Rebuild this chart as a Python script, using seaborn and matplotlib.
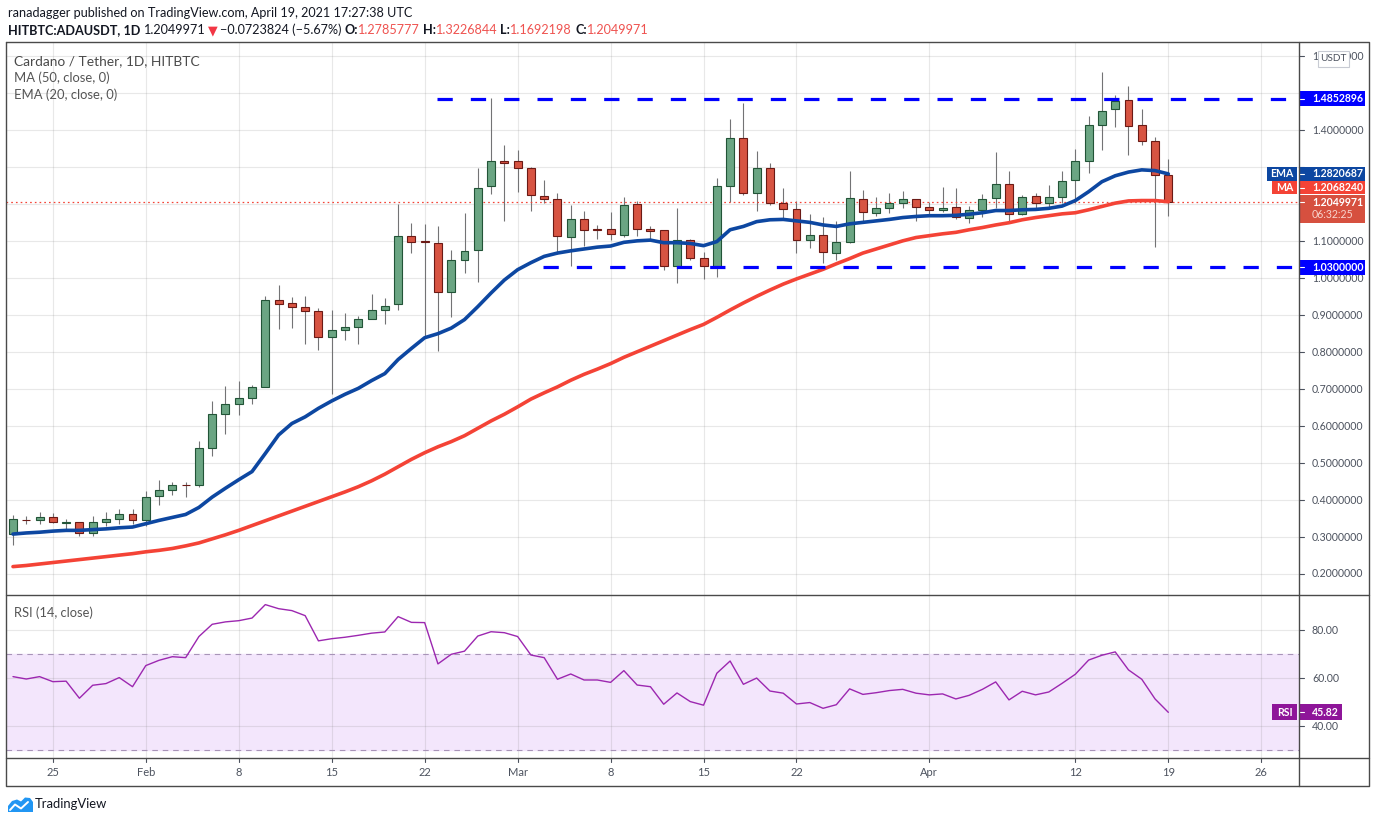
import numpy as np
import pandas as pd
import matplotlib
matplotlib.use("Agg")
import matplotlib.pyplot as plt
import matplotlib.transforms as mtrans
from matplotlib.patches import Rectangle, Polygon
import seaborn as sns

# ---------------- data ----------------
start_date = "2021-01-22"
end_date = "2021-04-19"

open_ = [0.307, 0.347, 0.345, 0.353, 0.339, 0.341, 0.310, 0.341, 0.348, 0.361,
         0.345, 0.410, 0.426, 0.442, 0.442, 0.540, 0.634, 0.661, 0.677, 0.705,
         0.940, 0.932, 0.923, 0.910, 0.842, 0.861, 0.869, 0.891, 0.915, 0.929,
         1.115, 1.100, 1.096, 0.962, 1.049, 1.076, 1.249, 1.317, 1.317, 1.297,
         1.222, 1.214, 1.111, 1.159, 1.133, 1.132, 1.118, 1.200, 1.132, 1.130,
         1.032, 1.103, 1.054, 1.032, 1.249, 1.378, 1.230, 1.297, 1.203, 1.186,
         1.103, 1.116, 1.068, 1.097, 1.214, 1.176, 1.189, 1.203, 1.214, 1.192,
         1.184, 1.192, 1.162, 1.184, 1.216, 1.254, 1.173, 1.222, 1.203, 1.219,
         1.265, 1.316, 1.414, 1.457, 1.481, 1.414, 1.370, 1.2785777]
high = [0.359, 0.357, 0.367, 0.364, 0.350, 0.341, 0.357, 0.367, 0.377, 0.377,
        0.424, 0.454, 0.449, 0.448, 0.559, 0.668, 0.708, 0.722, 0.711, 0.951,
        0.981, 0.949, 0.951, 0.919, 0.913, 0.905, 0.897, 0.957, 0.946, 1.200,
        1.150, 1.146, 1.140, 1.077, 1.177, 1.298, 1.486, 1.360, 1.347, 1.301,
        1.266, 1.231, 1.198, 1.182, 1.144, 1.179, 1.220, 1.209, 1.140, 1.130,
        1.191, 1.105, 1.070, 1.271, 1.430, 1.473, 1.343, 1.311, 1.243, 1.208,
        1.173, 1.166, 1.154, 1.290, 1.239, 1.219, 1.230, 1.236, 1.214, 1.207,
        1.247, 1.244, 1.196, 1.227, 1.341, 1.290, 1.224, 1.231, 1.252, 1.290,
        1.350, 1.439, 1.557, 1.495, 1.520, 1.457, 1.381, 1.3226844]
low = [0.278, 0.334, 0.336, 0.339, 0.323, 0.304, 0.304, 0.331, 0.336, 0.336,
       0.331, 0.387, 0.414, 0.409, 0.436, 0.520, 0.579, 0.630, 0.660, 0.705,
       0.863, 0.866, 0.823, 0.806, 0.688, 0.833, 0.823, 0.891, 0.877, 0.913,
       1.068, 0.837, 0.804, 0.895, 1.013, 0.991, 1.229, 1.156, 1.232, 1.183,
       1.203, 1.066, 1.034, 1.086, 1.106, 1.104, 1.112, 1.115, 1.104, 1.023,
       0.986, 1.050, 0.999, 1.002, 1.205, 1.224, 1.183, 1.198, 1.158, 1.067,
       1.083, 1.040, 1.048, 1.095, 1.156, 1.167, 1.177, 1.189, 1.154, 1.174,
       1.180, 1.159, 1.150, 1.165, 1.191, 1.154, 1.170, 1.189, 1.189, 1.203,
       1.203, 1.284, 1.346, 1.410, 1.332, 1.359, 1.084, 1.1692198]
close = [0.350, 0.345, 0.353, 0.341, 0.341, 0.310, 0.341, 0.348, 0.361, 0.345,
         0.407, 0.426, 0.440, 0.440, 0.540, 0.634, 0.661, 0.675, 0.705, 0.940,
         0.929, 0.923, 0.910, 0.842, 0.861, 0.869, 0.891, 0.913, 0.926, 1.115,
         1.099, 1.098, 0.964, 1.049, 1.073, 1.243, 1.317, 1.311, 1.297, 1.224,
         1.214, 1.114, 1.159, 1.130, 1.131, 1.119, 1.197, 1.132, 1.127, 1.032,
         1.103, 1.054, 1.032, 1.249, 1.378, 1.230, 1.297, 1.203, 1.186, 1.103,
         1.116, 1.070, 1.097, 1.216, 1.178, 1.189, 1.203, 1.214, 1.192, 1.184,
         1.189, 1.165, 1.184, 1.214, 1.254, 1.173, 1.219, 1.203, 1.219, 1.262,
         1.316, 1.414, 1.451, 1.478, 1.411, 1.370, 1.278, 1.2049971]

ema20 = [0.308, 0.311, 0.313, 0.316, 0.318, 0.318, 0.320, 0.322, 0.325, 0.327,
         0.336, 0.345, 0.353, 0.361, 0.380, 0.408, 0.432, 0.455,
         0.477, 0.526, 0.576, 0.607, 0.625, 0.648, 0.668, 0.686, 0.702, 0.723,
         0.742, 0.780, 0.810, 0.839, 0.850, 0.865,
         0.888, 0.923, 0.960, 0.995, 1.023, 1.042, 1.059, 1.068, 1.074, 1.079,
         1.084, 1.087, 1.097, 1.101, 1.103, 1.096, 1.096, 1.094,
         1.088, 1.099, 1.131, 1.140, 1.153, 1.158, 1.159, 1.155, 1.151, 1.144,
         1.140, 1.147, 1.151, 1.155, 1.159, 1.164, 1.167, 1.169,
         1.169, 1.170, 1.173, 1.177, 1.183, 1.183, 1.185, 1.186, 1.189, 1.195,
         1.210, 1.234, 1.261, 1.277, 1.287, 1.293, 1.291, 1.2820687]
ma50 = [0.220, 0.223, 0.227, 0.231, 0.235, 0.239, 0.243, 0.247, 0.251, 0.255,
        0.260, 0.264, 0.269, 0.276, 0.284, 0.295, 0.306, 0.318,
        0.331, 0.344, 0.357, 0.370, 0.383, 0.396, 0.409, 0.422, 0.436, 0.452,
        0.470, 0.490, 0.510, 0.528, 0.544, 0.558,
        0.574, 0.594, 0.614, 0.632, 0.652, 0.673, 0.690, 0.706, 0.724, 0.740,
        0.754, 0.769, 0.786, 0.801, 0.816, 0.831, 0.846, 0.861,
        0.875, 0.894, 0.914, 0.933, 0.951, 0.968, 0.984, 0.998, 1.011, 1.024,
        1.039, 1.053, 1.068, 1.079, 1.090, 1.101, 1.110, 1.115,
        1.120, 1.124, 1.131, 1.137, 1.144, 1.150, 1.158, 1.164, 1.169, 1.174,
        1.177, 1.185, 1.194, 1.203, 1.209, 1.210, 1.210, 1.2068240]
rsi14 = [60.7, 59.7, 60.7, 58.6, 58.8, 51.7, 57.1, 57.8, 60.3, 56.5,
         65.3, 67.5, 69.0, 68.6, 77.4, 82.5, 83.5, 84.0, 85.1, 90.7,
         89.0, 88.2, 86.1, 75.6, 76.5, 77.1, 77.9, 78.8, 79.3, 85.7,
         83.3, 83.2, 66.0, 70.0, 71.3, 77.6, 79.4, 79.0, 77.4, 69.7,
         68.6, 59.6, 61.8, 59.3, 59.3, 58.3, 63.2, 57.2, 56.5, 49.2,
         53.9, 50.3, 48.8, 62.1, 67.2, 57.5, 60.1, 54.7, 53.8, 49.3,
         49.9, 47.5, 49.0, 55.6, 53.3, 54.0, 54.9, 55.4, 53.8, 53.1,
         53.5, 51.4, 52.9, 55.4, 58.5, 51.0, 54.6, 53.1, 54.3, 57.9,
         61.7, 67.6, 69.6, 71.0, 63.5, 59.6, 51.4, 45.82]

levels = [1.4852896, 1.0300000]
level_starts = ["2021-02-23", "2021-03-03"]

tick_dates = ["2021-01-25", "2021-02-01", "2021-02-08", "2021-02-15", "2021-02-22",
              "2021-03-01", "2021-03-08", "2021-03-15", "2021-03-22", "2021-04-01",
              "2021-04-12", "2021-04-19", "2021-04-26"]
tick_labels = ["25", "Feb", "8", "15", "22", "Mar", "8", "15", "22", "Apr", "12", "19", "26"]
price_ticks = [0.2, 0.3, 0.4, 0.5, 0.6, 0.7, 0.8, 0.9, 1.0, 1.1, 1.2, 1.3, 1.4, 1.5, 1.6]
# labels hidden behind the coloured price boxes in the original
hidden_price_labels = [1.2, 1.3, 1.5]
rsi_ticks = [40, 60, 80]

# ---------------- style ----------------
sns.set_theme(style="white")
plt.rcParams['font.family'] = ['Lato', 'DejaVu Sans']
plt.rcParams['lines.scale_dashes'] = False

W, H = 1376, 823
fig = plt.figure(figsize=(W / 100, H / 100), dpi=100)
fig.patch.set_facecolor("white")

L, R = 6, 1299
T1, B1, B2 = 42, 595, 758
ax = fig.add_axes([L / W, 1 - B1 / H, (R - L) / W, (B1 - T1) / H])
ax2 = fig.add_axes([L / W, 1 - B2 / H, (R - L) / W, (B2 - B1) / H])
AXW = R - L

dates = pd.date_range(start_date, end_date, freq="D")
xs = np.arange(len(dates))
d0 = dates[0]
tick_pos = [(pd.Timestamp(d) - d0).days for d in tick_dates]

XLIM = (-0.527, 96.84)
for a in (ax, ax2):
    a.set_xlim(*XLIM)
    a.set_xticks([])
    a.set_yticks([])
    for s in a.spines.values():
        s.set_visible(False)
    a.set_facecolor("white")
ax.set_ylim(0.1432, 1.6388)
ax2.set_ylim(26.8, 94.7)

grid_kw = dict(color="#808080", alpha=0.18, lw=0.8, zorder=1)
for v in price_ticks:
    ax.axhline(v, **grid_kw)
for p in tick_pos:
    ax.axvline(p, **grid_kw)
    ax2.axvline(p, **grid_kw)

# ---------------- candles ----------------
o = np.array(open_); h = np.array(high); lo = np.array(low); c = np.array(close)
up = c >= o
ax.vlines(xs, lo, h, color="#737375", lw=0.8, zorder=2)
body_bottom = np.minimum(o, c)
body_h = np.maximum(np.abs(c - o), 0.0015)
ax.bar(xs[up], body_h[up], bottom=body_bottom[up], width=0.6,
       color="#6ba583", edgecolor="#225437", linewidth=0.8, zorder=3)
ax.bar(xs[~up], body_h[~up], bottom=body_bottom[~up], width=0.6,
       color="#d75442", edgecolor="#6b1a15", linewidth=0.8, zorder=3)

# ---------------- indicators ----------------
df = pd.DataFrame({"x": xs, "ema": ema20, "ma": ma50, "rsi": rsi14})
sns.lineplot(data=df, x="x", y="ma", ax=ax, color="#f44336", lw=2.6, zorder=4, legend=False)
sns.lineplot(data=df, x="x", y="ema", ax=ax, color="#0d47a1", lw=2.6, zorder=5, legend=False)
ax.set_xlabel(""); ax.set_ylabel("")

for lev, sd in zip(levels, level_starts):
    s = (pd.Timestamp(sd) - d0).days - 0.1
    ax.plot([s, XLIM[1]], [lev, lev], color="#0000ff", lw=2.3,
            linestyle=(0, (11, 13)), zorder=6, solid_capstyle="butt", dash_capstyle="butt")

ax.axhline(close[-1], color="#f44336", lw=0.9, linestyle=(0, (1.2, 2.2)), zorder=2)

ax2.axhspan(30, 70, color="#f3e6fc", zorder=0.5)
for v in rsi_ticks:
    ax2.axhline(v, **grid_kw)
for v in (30, 70):
    ax2.axhline(v, color="#a894b8", lw=0.8, linestyle=(0, (4, 3.5)), zorder=1.5)
sns.lineplot(data=df, x="x", y="rsi", ax=ax2, color="#9c27b0", lw=1.0, zorder=4, legend=False)
ax2.set_xlabel(""); ax2.set_ylabel("")

# ---------------- right axis labels ----------------
axis_col = "#4c525e"
FS = 7.6
bt = mtrans.blended_transform_factory(ax.transAxes, ax.transData)
bt2 = mtrans.blended_transform_factory(ax2.transAxes, ax2.transData)
lab_x = (1312 - L) / AXW
tick_len = 5 / AXW

for v in price_ticks:
    ax.plot([1.0, 1.0 + tick_len], [v, v], transform=bt, color=axis_col, lw=0.8, clip_on=False, zorder=7)
    if v in hidden_price_labels:
        continue
    ax.text(lab_x, v, f"{v:.7f}", transform=bt, va="center", ha="left", fontsize=FS,
            color=axis_col, clip_on=False, zorder=7)
for v in rsi_ticks:
    ax2.plot([1.0, 1.0 + tick_len], [v, v], transform=bt2, color=axis_col, lw=0.8, clip_on=False, zorder=7)
    ax2.text(lab_x, v, f"{v:.2f}", transform=bt2, va="center", ha="left", fontsize=FS,
             color=axis_col, clip_on=False, zorder=7)

PX = 1 / 369.75


def value_box(a, tr, y, text, fc, h_units, x0=1299, x1=1365, tc="white", zo=10):
    a.add_patch(Rectangle(((x0 - L) / AXW, y - h_units / 2), (x1 - x0) / AXW, h_units,
                          transform=tr, fc=fc, ec="none", clip_on=False, zorder=zo))
    a.plot([1.0, 1.0 + tick_len], [y, y], transform=tr, color="white", lw=0.8, clip_on=False, zorder=zo + 1)
    a.text(lab_x, y, text, transform=tr, va="center", ha="left", fontsize=FS, color=tc,
           fontweight="bold", clip_on=False, zorder=zo + 1)


def name_box(a, tr, y, text, fc, h_units, x0, x1, zo=10):
    a.add_patch(Rectangle(((x0 - L) / AXW, y - h_units / 2), (x1 - x0) / AXW, h_units,
                          transform=tr, fc=fc, ec="none", clip_on=False, zorder=zo))
    a.text(((x0 + x1) / 2 - L) / AXW, y, text, transform=tr, va="center", ha="center",
           fontsize=FS, color="white", fontweight="bold", clip_on=False, zorder=zo + 1)


value_box(ax, bt, levels[0], f"{levels[0]:.7f}", "#0000ff", 15 * PX)
value_box(ax, bt, levels[1], f"{levels[1]:.7f}", "#0000ff", 15 * PX)
value_box(ax, bt, ema20[-1], f"{ema20[-1]:.7f}", "#0d47a1", 14 * PX)
name_box(ax, bt, ema20[-1], "EMA", "#0d47a1", 14 * PX, 1267, 1297)
ma_y = ma50[-1] + 14 * PX
value_box(ax, bt, ma_y, f"{ma50[-1]:.7f}", "#f44336", 13.5 * PX, zo=11)
name_box(ax, bt, ma_y, "MA", "#f44336", 13.5 * PX, 1272, 1297, zo=11)
cp = close[-1]
top = cp + 7.5 * PX
bot = cp - 21 * PX
ax.add_patch(Rectangle(((1299 - L) / AXW, bot), 66 / AXW, top - bot, transform=bt,
                       fc="#d6503f", ec="none", clip_on=False, zorder=12))
ax.plot([1.0, 1.0 + tick_len], [cp, cp], transform=bt, color="white", lw=0.8, clip_on=False, zorder=13)
ax.text(lab_x, cp, f"{cp:.7f}", transform=bt, va="center", ha="left", fontsize=FS,
        color="white", fontweight="bold", clip_on=False, zorder=13)
ax.text(lab_x, cp - 12.5 * PX, "06:32:25", transform=bt, va="center", ha="left", fontsize=FS,
        color="#f8d5ce", clip_on=False, zorder=13)

RPX = 1 / 2.4
value_box(ax2, bt2, rsi14[-1], f"{rsi14[-1]:.2f}", "#8e1599", 16 * RPX, x0=1299, x1=1342)
name_box(ax2, bt2, rsi14[-1], "RSI", "#8e1599", 16 * RPX, 1272, 1297)

# ---------------- overlay (frame, texts) ----------------
ov = fig.add_axes([0, 0, 1, 1], zorder=20)
ov.set_xlim(0, W); ov.set_ylim(H, 0); ov.axis("off")
ov.patch.set_alpha(0)
fc = "#4a4a4a"
ov.plot([6, 1369, 1369, 6, 6], [42, 42, 786, 786, 42], color=fc, lw=1.0)
ov.plot([6, 1369], [595, 595], color=fc, lw=1.0)
ov.plot([6, 1369], [758, 758], color=fc, lw=1.0)
ov.plot([1299, 1299], [42, 786], color=fc, lw=1.0)

ov.add_patch(Rectangle((1318, 51), 31, 15.5, fc="white", ec="#c8cbd3", lw=0.8, zorder=5))
ov.text(1333.5, 58.8, "USDT", ha="center", va="center", fontsize=7.2, color=axis_col, zorder=6)

bx = mtrans.blended_transform_factory(ax2.transData, ax2.transAxes)
for p, lab in zip(tick_pos, tick_labels):
    ax2.plot([p, p], [0, -4 / (B2 - B1)], transform=bx, color=axis_col, lw=0.8, clip_on=False)
    ax2.text(p, -14 / (B2 - B1), lab, transform=bx, ha="center", va="center", fontsize=8.0,
             color=axis_col, clip_on=False)

tcol = "#4a4a4a"
ov.text(14, 61, "Cardano / Tether, 1D, HITBTC", fontsize=9.9, color=tcol, va="center", ha="left")
ov.text(14, 78, "MA (50, close, 0)", fontsize=9.4, color="#555", va="center", ha="left")
ov.text(14, 95, "EMA (20, close, 0)", fontsize=9.4, color="#555", va="center", ha="left")
ov.text(14, 613, "RSI (14, close)", fontsize=9.3, color="#555", va="center", ha="left")

dark = "#131722"
red = "#ef5350"
HFS = 9.1
ov.text(8, 13, "ranadagger published on TradingView.com, April 19, 2021 17:27:38 UTC",
        fontsize=HFS, color=dark, va="center", ha="left")

renderer = fig.canvas.get_renderer()


def seq(x, y, pieces, size=HFS):
    for txt, col, wt, gap in pieces:
        t = ov.text(x, y, txt, fontsize=size, color=col, fontweight=wt, va="center", ha="left")
        bb = t.get_window_extent(renderer=renderer)
        x += bb.width + gap


seq(8, 30, [
    ("HITBTC:ADAUSDT, 1D", dark, "bold", 4),
    ("1.2049971", dark, "normal", 2),
    ("\u25bc", "#f23645", "normal", 2),
    ("\u22120.0723824 (\u22125.67%)", dark, "normal", 3),
    ("O:", dark, "bold", 0),
    ("1.2785777", red, "normal", 3),
    ("H:", dark, "bold", 0),
    ("1.3226844", red, "normal", 3),
    ("L:", dark, "bold", 0),
    ("1.1692198", red, "normal", 3),
    ("C:", dark, "bold", 0),
    ("1.2049971", red, "normal", 0),
])

ov.add_patch(Polygon([(8, 812), (8, 806), (12, 801), (17, 799.5), (21, 801.5), (25, 797.5),
                      (30, 798), (33, 802), (33, 812)], closed=True, fc="#2196f3", ec="none"))
ov.plot([10, 15, 21, 28], [810, 804.5, 808.5, 802], color="white", lw=1.4)
ov.text(35, 804, "TradingView", fontsize=9.4, color=dark, va="center", ha="left")

fig.savefig("out.png", dpi=100)
